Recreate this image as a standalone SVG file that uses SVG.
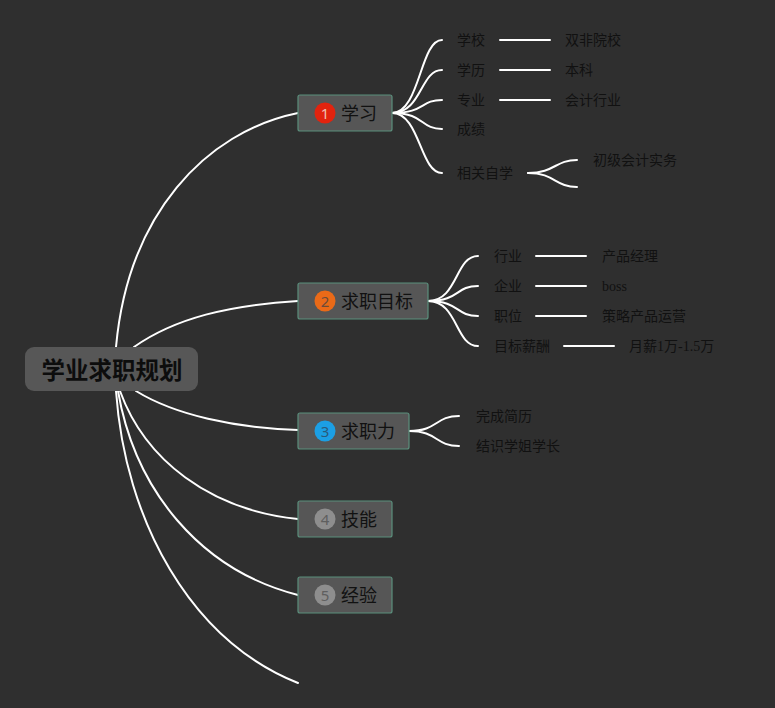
<svg xmlns="http://www.w3.org/2000/svg" width="775" height="708" viewBox="0 0 775 708">
<style>
.bg{fill:#2f2f2f}
.conn path{fill:none;stroke:#ffffff;stroke-width:2;stroke-linecap:round}
.main{fill:#565656;stroke:#5b8f7c;stroke-width:1.2}
.mt{font-family:"Noto Sans CJK SC","Noto Sans",sans-serif;font-size:18px;fill:#111}
.num{font-family:"Noto Sans","Liberation Sans",sans-serif;font-size:15px;text-anchor:middle}
.leaf{font-family:"Liberation Serif","Noto Sans CJK SC",serif;font-size:14px;fill:#111}
</style>
<rect class="bg" x="0" y="0" width="775" height="708"/>
<g class="conn" id="connectors">
<path d="M116,347 C128,215 205,132 298,113"/>
<path d="M134,347 C175,318 230,305 298,301"/>
<path d="M136,391 C175,415 235,428 298,430"/>
<path d="M120,391 C145,460 210,510 298,519"/>
<path d="M118,391 C135,490 200,570 298,595"/>
<path d="M116,391 C125,520 190,640 298,683"/>
<path d="M392,113 C420,113 420,40 442,40"/>
<path d="M392,113 C422,113 420,70 442,70"/>
<path d="M392,113 C425,113 420,100 442,100"/>
<path d="M392,113 C425,113 420,129 442,129"/>
<path d="M392,113 C420,113 420,173 442,173"/>
<path d="M500,40 H550"/>
<path d="M500,70 H550"/>
<path d="M500,100 H550"/>
<path d="M528,173 C555,173 555,160 577,160"/>
<path d="M528,173 C555,173 555,187 577,187"/>
<path d="M428,301 C458,301 455,256 478,256"/>
<path d="M428,301 C460,301 455,286 478,286"/>
<path d="M428,301 C460,301 455,316 478,316"/>
<path d="M428,301 C458,301 455,346 478,346"/>
<path d="M536,256 H586"/>
<path d="M536,286 H586"/>
<path d="M536,316 H586"/>
<path d="M564,346 H614"/>
<path d="M409,431 C438,431 435,416 459,416"/>
<path d="M409,431 C438,431 435,446 459,446"/>
</g>
<g id="root">
<rect x="25" y="347" width="173" height="44" rx="9" fill="#575757"/>
<text x="112" y="379" text-anchor="middle" font-family="Noto Sans CJK SC,sans-serif" font-weight="bold" font-size="23.5" fill="#0d0d0d">学业求职规划</text>
</g>
<g id="n1">
<rect class="main" x="298" y="95" width="94" height="36" rx="2"/>
<circle cx="325" cy="113" r="10.5" fill="#e2230e"/>
<text class="num" x="325" y="118.5" fill="#f0c0b0">1</text>
<text class="mt" x="341" y="119.5">学习</text>
</g>
<g id="n2">
<rect class="main" x="298" y="283" width="130" height="36" rx="2"/>
<circle cx="325" cy="301" r="10.5" fill="#ea6a18"/>
<text class="num" x="325" y="306.5" fill="#6b4a3a">2</text>
<text class="mt" x="341" y="307.5">求职目标</text>
</g>
<g id="n3">
<rect class="main" x="298" y="413" width="111" height="36" rx="2"/>
<circle cx="325" cy="431" r="10.5" fill="#1c9fe4"/>
<text class="num" x="325" y="436.5" fill="#2a5a7a">3</text>
<text class="mt" x="341" y="437.5">求职力</text>
</g>
<g id="n4">
<rect class="main" x="298" y="501" width="94" height="36" rx="2"/>
<circle cx="325" cy="519" r="10.5" fill="#8e8e8e"/>
<text class="num" x="325" y="524.5" fill="#5f5f5f">4</text>
<text class="mt" x="341" y="525.5">技能</text>
</g>
<g id="n5">
<rect class="main" x="298" y="577" width="94" height="36" rx="2"/>
<circle cx="325" cy="595" r="10.5" fill="#8e8e8e"/>
<text class="num" x="325" y="600.5" fill="#5f5f5f">5</text>
<text class="mt" x="341" y="601.5">经验</text>
</g>
<g id="leaves1">
<text class="leaf" x="457" y="45">学校</text>
<text class="leaf" x="457" y="75">学历</text>
<text class="leaf" x="457" y="105">专业</text>
<text class="leaf" x="457" y="134">成绩</text>
<text class="leaf" x="457" y="178">相关自学</text>
<text class="leaf" x="565" y="45">双非院校</text>
<text class="leaf" x="565" y="75">本科</text>
<text class="leaf" x="565" y="105">会计行业</text>
<text class="leaf" x="593" y="165">初级会计实务</text>
</g>
<g id="leaves2">
<text class="leaf" x="494" y="261">行业</text>
<text class="leaf" x="494" y="291">企业</text>
<text class="leaf" x="494" y="321">职位</text>
<text class="leaf" x="494" y="351">目标薪酬</text>
<text class="leaf" x="602" y="261">产品经理</text>
<text class="leaf" x="602" y="291">boss</text>
<text class="leaf" x="602" y="321">策略产品运营</text>
<text class="leaf" x="629" y="351">月薪1万-1.5万</text>
</g>
<g id="leaves3">
<text class="leaf" x="476" y="421">完成简历</text>
<text class="leaf" x="476" y="451">结识学姐学长</text>
</g>
</svg>
